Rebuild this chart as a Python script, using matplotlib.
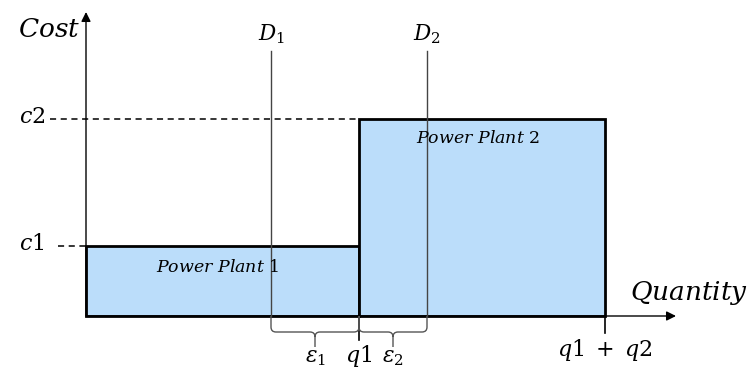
import matplotlib
matplotlib.use("Agg")
import matplotlib.pyplot as plt
from matplotlib.patches import Rectangle, PathPatch
from matplotlib.path import Path

plt.rcParams['mathtext.fontset'] = 'dejavuserif'

# data (diagram units; origin at axes crossing)
plants = ["Power Plant 1", "Power Plant 2"]
capacities = [273, 246]     # q1, q2
costs = [70, 197]           # c1, c2
demands = [185, 341]        # D1, D2 positions
demand_labels = [r"$D_1$", r"$D_2$"]
eps_labels = [r"$\varepsilon_1$", r"$\varepsilon_2$"]
cost_labels = [r"$c1$", r"$c2$"]
fill_color = "#BBDDFA"

fig = plt.figure(figsize=(7.53, 3.72), dpi=100)
ax = fig.add_axes([0, 0, 1, 1])
ax.set_xlim(-86, 667)
ax.set_ylim(-56, 316)
ax.axis('off')

q1, q2 = capacities
c1, c2 = costs

# rectangles
x0 = 0
for i, (w, h) in enumerate(zip(capacities, costs)):
    ax.add_patch(Rectangle((x0, 0), w, h, facecolor=fill_color,
                           edgecolor='black', lw=2, zorder=2))
    x0 += w

# axes arrows
ax.annotate("", xy=(0, 304), xytext=(0, 0),
            arrowprops=dict(arrowstyle="-|>", lw=1, color='black',
                            mutation_scale=14, shrinkA=0, shrinkB=0), zorder=3)
ax.annotate("", xy=(590, 0), xytext=(0, 0),
            arrowprops=dict(arrowstyle="-|>", lw=1, color='black',
                            mutation_scale=14, shrinkA=0, shrinkB=0), zorder=3)

# dashed cost lines
ax.plot([-28, 0], [c1, c1], ls=(0, (4, 3)), color='black', lw=1.1, zorder=3)
ax.plot([-36, q1], [c2, c2], ls=(0, (4, 3)), color='black', lw=1.1, zorder=3)

# ticks below axis
ax.plot([q1, q1], [0, -24], color='black', lw=1.2, zorder=3)
ax.plot([q1 + q2, q1 + q2], [0, -17], color='black', lw=1.2, zorder=3)

# demand lines
for d, lab in zip(demands, demand_labels):
    ax.plot([d, d], [0, 265], color='#444444', lw=1, zorder=4)
    ax.text(d, 270, lab, ha='center', va='bottom', fontsize=15.5)

# braces
def brace(xa, xb, y0=0, depth=16, tip=31, r=5):
    xm = (xa + xb) / 2
    verts = [
        (xa, y0), (xa, -depth + r),
        (xa, -depth), (xa + r, -depth),
        (xm - r, -depth),
        (xm, -depth), (xm, -depth - r),
        (xm, -tip),
        (xm, -depth - r),
        (xm, -depth), (xm + r, -depth),
        (xb - r, -depth),
        (xb, -depth), (xb, -depth + r),
        (xb, y0),
    ]
    codes = [Path.MOVETO, Path.LINETO,
             Path.CURVE3, Path.CURVE3,
             Path.LINETO,
             Path.CURVE3, Path.CURVE3,
             Path.LINETO,
             Path.MOVETO,
             Path.CURVE3, Path.CURVE3,
             Path.LINETO,
             Path.CURVE3, Path.CURVE3,
             Path.LINETO]
    ax.add_patch(PathPatch(Path(verts, codes), facecolor='none',
                           edgecolor='#555555', lw=1, zorder=3))

brace(demands[0], q1)
brace(q1, demands[1])

# labels under axis
ax.text((demands[0] + q1) / 2, -32, eps_labels[0], ha='center', va='top', fontsize=15.5)
ax.text(q1, -27, r"$q1$", ha='center', va='top', fontsize=16)
ax.text((q1 + demands[1]) / 2, -32, eps_labels[1], ha='center', va='top', fontsize=15.5)
ax.text(q1 + q2, -21, r"$q1\;+\;q2$", ha='center', va='top', fontsize=16)

# cost labels
for c, lab in zip(costs, cost_labels):
    ax.text(-54, c + 2, lab, ha='center', va='center', fontsize=16)

ax.text(-6, 286, r"$Cost$", ha='right', va='center', fontsize=19)
ax.text(544, 23, r"$Quantity$", ha='left', va='center', fontsize=19)

# plant labels
ax.text(132, 49, r"$Power\ Plant\ 1$", ha='center', va='center', fontsize=12.5, zorder=5)
ax.text(q1 + 119, 178, r"$Power\ Plant\ 2$", ha='center', va='center', fontsize=12.5, zorder=5)

fig.savefig("out.png", dpi=100)
